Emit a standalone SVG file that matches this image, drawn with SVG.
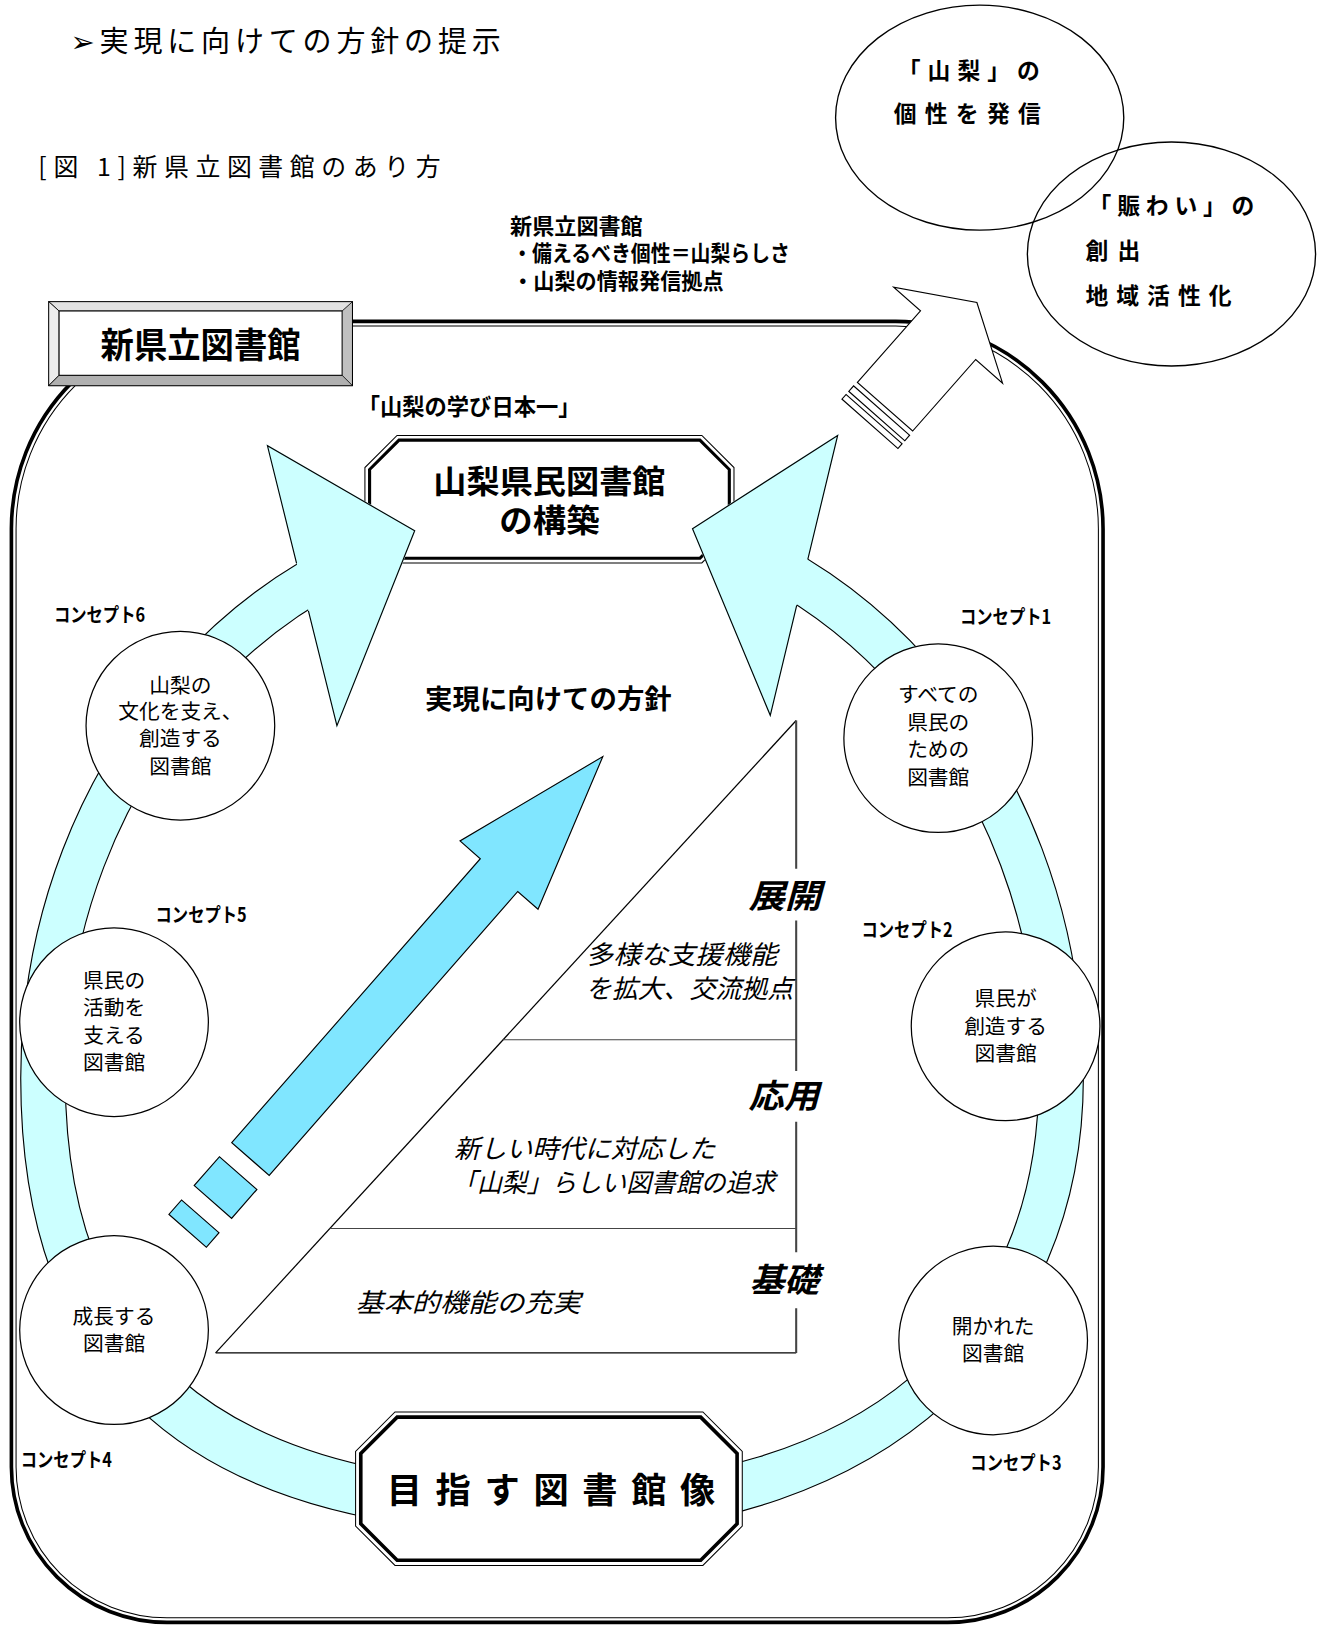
<svg xmlns="http://www.w3.org/2000/svg" width="1327" height="1625" viewBox="0 0 1327 1625">
<style>
.t{font-family:"Noto Sans CJK JP","Noto Sans","DejaVu Sans",sans-serif;fill:#000}
.tl{font-family:"Liberation Sans","Noto Sans CJK JP",sans-serif;fill:#000}
.b{font-weight:bold}
.i{font-style:italic}
.c{fill:#fff;stroke:#000;stroke-width:1.2}
.band{fill:#ccffff}
.ol{fill:none;stroke:#000;stroke-width:1.1}
.blue{fill:#80e6ff;stroke:#000;stroke-width:1.1}
.ct{font-size:20px;text-anchor:middle}
.cl{font-size:19px;font-weight:bold}
</style>
<defs>
<clipPath id="wedge"><path d="M0,0 H151.3 L349.8,800 H716.5 L909,0 H1400 V1700 H0 Z"/></clipPath>
</defs>
<rect x="0" y="0" width="1327" height="1625" fill="#fff"/>
<g transform="scale(1.0367)">
<g id="title">
<text class="t" x="68" y="50" font-size="28" textLength="415" lengthAdjust="spacing">➢実現に向けての方針の提示</text>
</g>
<g id="caption">
<text class="t" x="37" y="170" font-size="24" textLength="388" lengthAdjust="spacing">[図 1]新県立図書館のあり方</text>
</g>
<g id="frame">
<path d="M211,310 H864 A200,200 0 0 1 1064,510 V1415 A150,150 0 0 1 914,1565 H161 A150,150 0 0 1 11,1415 V510 A200,200 0 0 1 211,310 Z" fill="#fff" stroke="#000" stroke-width="3.5"/>
<path d="M211,314.5 H864 A195.5,195.5 0 0 1 1059.5,510 V1415 A145.5,145.5 0 0 1 914,1560.5 H161 A145.5,145.5 0 0 1 15.5,1415 V510 A195.5,195.5 0 0 1 211,314.5 Z" fill="none" stroke="#000" stroke-width="1"/>
</g>
<g id="kenmin-library">
<polygon points="383,420 677,420 708,451 708,512 677,543 383,543 352,512 352,451" fill="#fff" stroke="#000" stroke-width="1"/>
<polygon points="384.9,424.5 675.1,424.5 703.5,452.9 703.5,510.1 675.1,538.5 384.9,538.5 356.5,510.1 356.5,452.9" fill="#fff" stroke="#000" stroke-width="3"/>
<text class="tl b" x="530" y="476" font-size="31" text-anchor="middle" textLength="224" lengthAdjust="spacingAndGlyphs">山梨県民図書館</text>
<text class="tl b" x="530" y="513" font-size="31" text-anchor="middle" textLength="97" lengthAdjust="spacingAndGlyphs">の構築</text>
</g>
<g id="connectors">
<path class="band" fill-rule="evenodd" clip-path="url(#wedge)" d="M535,474 C250.6,474 20,727.4 20,1040 C20,1300 150,1480 535,1480 C860,1480 1045,1290 1045,1040 C1045,725.2 816.7,470 535,470 Z M535,517 C274.3,517 63,751.1 63,1040 C63,1290 200,1432 535,1432 C830,1432 1002,1285 1002,1040 C1002,748.9 792.9,513 535,513 Z"/>
<polygon class="band" points="258,430 400,512 325,700" stroke="#ccffff" stroke-width="1.5"/>
<polygon class="band" points="808,420 668,510 743,690" stroke="#ccffff" stroke-width="1.5"/>
<path class="ol" clip-path="url(#wedge)" d="M535,474 C250.6,474 20,727.4 20,1040 C20,1300 150,1480 535,1480 C860,1480 1045,1290 1045,1040 C1045,725.2 816.7,470 535,470 Z M535,517 C274.3,517 63,751.1 63,1040 C63,1290 200,1432 535,1432 C830,1432 1002,1285 1002,1040 C1002,748.9 792.9,513 535,513 Z"/>
<path class="ol" d="M286.1,543.4 L258,430 L400,512 L325,700 L297.5,589.3"/>
<path class="ol" d="M779.2,539.6 L808,420 L668,510 L743,690 L768.5,583.9"/>
<g transform="translate(241.6,1118) rotate(-48.8)">
<polygon class="blue" points="0,-24 364,-24 364,-50 516,0 364,50 364,24 0,24"/>
<rect class="blue" x="-55" y="-24" width="37" height="48"/>
<rect class="blue" x="-92" y="-24" width="18.5" height="48"/>
</g>
<g transform="translate(853.7,392.3) rotate(-48.6)">
<polygon points="0,-35.5 92,-35.5 92,-70 134,0 92,70 92,35.5 0,35.5" fill="#fff" stroke="#000" stroke-width="1.1"/>
<rect x="-12" y="-36" width="7" height="72" fill="#fff" stroke="#000" stroke-width="1.1"/>
<rect x="-22" y="-36" width="6" height="72" fill="#fff" stroke="#000" stroke-width="1.1"/>
</g>
</g>
<g id="triangle">
<path d="M208,1305 L768,695" fill="none" stroke="#000" stroke-width="1.2"/>
<path d="M208,1305 H768" fill="none" stroke="#000" stroke-width="1.2"/>
<path d="M485,1003 H768 M318,1185 H768" fill="none" stroke="#444" stroke-width="1"/>
<path d="M768,695 V838 M768,888 V1033 M768,1082 V1208 M768,1262 V1305" fill="none" stroke="#444" stroke-width="2"/>
<text class="t b i" x="722" y="876" font-size="32" textLength="70" lengthAdjust="spacingAndGlyphs">展開</text>
<text class="t b i" x="722" y="1069" font-size="32" textLength="68" lengthAdjust="spacingAndGlyphs">応用</text>
<text class="t b i" x="723" y="1246" font-size="32" textLength="67" lengthAdjust="spacingAndGlyphs">基礎</text>
<text class="t i" x="565" y="930" font-size="25" textLength="185" lengthAdjust="spacingAndGlyphs">多様な支援機能</text>
<text class="t i" x="565" y="963" font-size="25" textLength="200" lengthAdjust="spacingAndGlyphs">を拡大、交流拠点</text>
<text class="t i" x="438" y="1117" font-size="25" textLength="252" lengthAdjust="spacingAndGlyphs">新しい時代に対応した</text>
<text class="t i" x="436" y="1150" font-size="25" textLength="312" lengthAdjust="spacingAndGlyphs">「山梨」らしい図書館の追求</text>
<text class="t i" x="343" y="1266" font-size="25" textLength="217" lengthAdjust="spacingAndGlyphs">基本的機能の充実</text>
</g>
<g id="policy-label">
<text class="t b" x="529" y="684" font-size="26" text-anchor="middle" textLength="238" lengthAdjust="spacingAndGlyphs">実現に向けての方針</text>
</g>
<g id="manabi-label">
<text class="t b" x="345" y="400" font-size="22" textLength="215" lengthAdjust="spacingAndGlyphs">「山梨の学び日本一」</text>
</g>
<g id="concept1">
<circle class="c" cx="905" cy="712" r="91"/>
<text class="t cl" x="926" y="602" textLength="88" lengthAdjust="spacingAndGlyphs">コンセプト1</text>
<text class="t ct" x="905" y="677">すべての</text>
<text class="t ct" x="905" y="704">県民の</text>
<text class="t ct" x="905" y="730">ための</text>
<text class="t ct" x="905" y="757">図書館</text>
</g>
<g id="concept2">
<circle class="c" cx="970" cy="990" r="91"/>
<text class="t cl" x="831" y="904" textLength="88" lengthAdjust="spacingAndGlyphs">コンセプト2</text>
<text class="t ct" x="970" y="970">県民が</text>
<text class="t ct" x="970" y="997">創造する</text>
<text class="t ct" x="970" y="1023">図書館</text>
</g>
<g id="concept3">
<circle class="c" cx="958" cy="1293" r="91"/>
<text class="t cl" x="936" y="1418" textLength="88" lengthAdjust="spacingAndGlyphs">コンセプト3</text>
<text class="t ct" x="958" y="1287">開かれた</text>
<text class="t ct" x="958" y="1313">図書館</text>
</g>
<g id="concept4">
<circle class="c" cx="110" cy="1283" r="91"/>
<text class="t cl" x="20" y="1415" textLength="88" lengthAdjust="spacingAndGlyphs">コンセプト4</text>
<text class="t ct" x="110" y="1277">成長する</text>
<text class="t ct" x="110" y="1303">図書館</text>
</g>
<g id="concept5">
<circle class="c" cx="110" cy="986" r="91"/>
<text class="t cl" x="150" y="889" textLength="88" lengthAdjust="spacingAndGlyphs">コンセプト5</text>
<text class="t ct" x="110" y="953">県民の</text>
<text class="t ct" x="110" y="979">活動を</text>
<text class="t ct" x="110" y="1006">支える</text>
<text class="t ct" x="110" y="1032">図書館</text>
</g>
<g id="concept6">
<circle class="c" cx="174" cy="700" r="91"/>
<text class="t cl" x="52" y="600" textLength="88" lengthAdjust="spacingAndGlyphs">コンセプト6</text>
<text class="t ct" x="174" y="668">山梨の</text>
<text class="t ct" x="174" y="694">文化を支え、</text>
<text class="t ct" x="174" y="720">創造する</text>
<text class="t ct" x="174" y="747">図書館</text>
</g>
<g id="target-image">
<polygon points="381,1362 678,1362 716,1400 716,1472 678,1510 381,1510 343,1472 343,1400" fill="#fff" stroke="#000" stroke-width="1"/>
<polygon points="383.1,1367 675.9,1367 711,1402.1 711,1469.9 675.9,1505 383.1,1505 348,1469.9 348,1402.1" fill="#fff" stroke="#000" stroke-width="3.5"/>
<text class="t b" x="373" y="1450" font-size="34" textLength="317" lengthAdjust="spacing">目指す図書館像</text>
</g>
<g id="new-library">
<rect x="47" y="291" width="293" height="81" fill="#c0c0c0" stroke="#000" stroke-width="1"/>
<polygon points="47,291 340,291 330,300 57,300" fill="#e2e2e2" stroke="#000" stroke-width="0.8"/>
<polygon points="47,291 57,300 57,362 47,372" fill="#ececec" stroke="#000" stroke-width="0.8"/>
<polygon points="47,372 57,362 330,362 340,372" fill="#b0b0b0" stroke="#000" stroke-width="0.8"/>
<rect x="57" y="300" width="273" height="62" fill="#fff" stroke="#000" stroke-width="1"/>
<text class="t b" x="193.5" y="345" font-size="34" text-anchor="middle" textLength="193" lengthAdjust="spacingAndGlyphs">新県立図書館</text>
</g>
<g id="info-text">
<text class="tl b" x="492" y="226" font-size="21" textLength="128" lengthAdjust="spacingAndGlyphs">新県立図書館</text>
<text class="tl b" x="494" y="252" font-size="21" textLength="268" lengthAdjust="spacingAndGlyphs">・備えるべき個性＝山梨らしさ</text>
<text class="tl b" x="494" y="279" font-size="21" textLength="204" lengthAdjust="spacingAndGlyphs">・山梨の情報発信拠点</text>
</g>
<g id="ellipse-yamanashi">
<ellipse cx="945" cy="113.5" rx="139" ry="108.5" fill="none" stroke="#000" stroke-width="1.3"/>
<text class="t b" x="866" y="76" font-size="22" textLength="137" lengthAdjust="spacing">「山梨」の</text>
<text class="t b" x="862" y="118" font-size="22" textLength="142" lengthAdjust="spacing">個性を発信</text>
</g>
<g id="ellipse-nigiwai">
<ellipse cx="1130" cy="245" rx="139" ry="108" fill="none" stroke="#000" stroke-width="1.3"/>
<text class="t b" x="1050" y="206" font-size="22" textLength="160" lengthAdjust="spacing">「賑わい」の</text>
<text class="t b" x="1047" y="250" font-size="22" textLength="53" lengthAdjust="spacing">創出</text>
<text class="t b" x="1047" y="293" font-size="22" textLength="141" lengthAdjust="spacing">地域活性化</text>
</g>
</g>
</svg>
